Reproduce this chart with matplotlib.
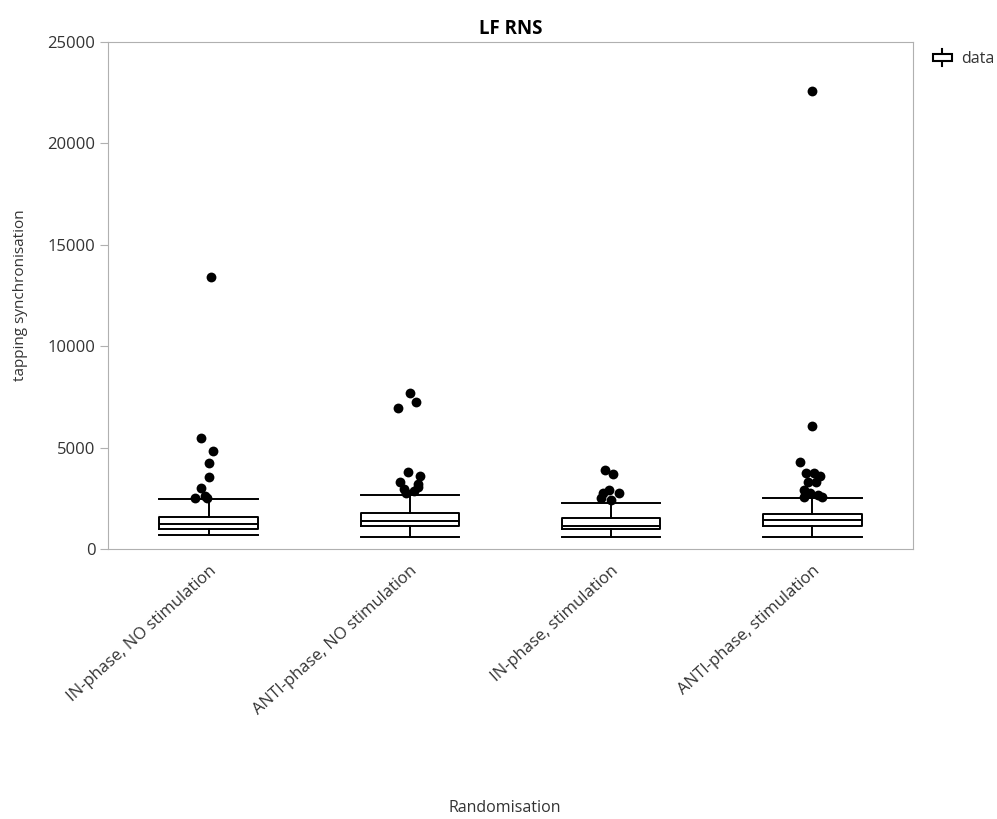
import matplotlib
matplotlib.use("Agg")
import matplotlib.pyplot as plt
from matplotlib.patches import Rectangle
from matplotlib.lines import Line2D
from matplotlib.legend_handler import HandlerBase

plt.rcParams['font.family'] = ['Open Sans', 'DejaVu Sans']

categories = ["IN-phase, NO stimulation", "ANTI-phase, NO stimulation",
              "IN-phase, stimulation", "ANTI-phase, stimulation"]
q1 = [1000, 1150, 990, 1150]
median = [1230, 1370, 1150, 1430]
q3 = [1560, 1790, 1545, 1710]
whisker_low = [705, 607, 607, 607]
whisker_high = [2450, 2660, 2280, 2500]

outliers = [
    [13410, 5460, 4850, 4260, 3540, 2990, 2610, 2500, 2500],
    [7680, 7260, 6940, 3810, 3600, 3320, 3200, 3070, 2950, 2850, 2750],
    [3900, 3680, 2910, 2780, 2750, 2500, 2420],
    [22590, 6070, 4280, 3730, 3730, 3620, 3320, 3320, 2910, 2750, 2660, 2580, 2550],
]
jitter = [
    [0.01, -0.04, 0.02, 0.0, 0.0, -0.04, -0.02, -0.07, -0.01],
    [0.0, 0.03, -0.06, -0.01, 0.05, -0.05, 0.04, 0.04, -0.03, 0.02, -0.02],
    [-0.03, 0.01, -0.01, 0.04, -0.04, -0.05, 0.0],
    [0.0, 0.0, -0.06, -0.03, 0.01, 0.04, -0.02, 0.02, -0.04, -0.01, 0.03, -0.04, 0.05],
]

fig = plt.figure(figsize=(9.97, 8.19), dpi=100)
ax = fig.add_axes([0.1083, 0.3297, 0.8074, 0.619])

stats = []
for i in range(len(categories)):
    stats.append(dict(med=median[i], q1=q1[i], q3=q3[i],
                      whislo=whisker_low[i], whishi=whisker_high[i], fliers=[]))

positions = list(range(len(categories)))
ax.bxp(stats, positions=positions, widths=0.49, showfliers=False,
       boxprops=dict(color='black', linewidth=1.4),
       medianprops=dict(color='black', linewidth=1.4),
       whiskerprops=dict(color='black', linewidth=1.4),
       capprops=dict(color='black', linewidth=1.4),
       capwidths=0.49)

for i, (vals, jit) in enumerate(zip(outliers, jitter)):
    xs = [positions[i] + j for j in jit]
    ax.scatter(xs, vals, s=50, color='black', zorder=3, linewidths=0)

ax.set_xlim(-0.5, len(categories) - 0.5)
ax.set_ylim(0, 25000)
ax.set_yticks([0, 5000, 10000, 15000, 20000, 25000])
ax.set_yticklabels(["0", "5000", "10000", "15000", "20000", "25000"])
ax.set_xticks(positions)
ax.set_xticklabels(categories, rotation=42, ha='right', rotation_mode='anchor')

for s in ax.spines.values():
    s.set_color('#b0b0b0')
ax.tick_params(axis='y', colors='#b0b0b0', labelcolor='#333333', labelsize=12, length=6, pad=3)
ax.tick_params(axis='x', length=0, labelcolor='#333333', labelsize=12, pad=10)

ax.set_title("LF RNS", fontsize=13.5, fontweight='bold', pad=6)
ax.set_ylabel("tapping synchronisation", fontsize=11, color='#333333', labelpad=14)
fig.text(0.506, 0.004, "Randomisation", ha='center', va='bottom', fontsize=11.5, color='#333333')


class BoxHandler(HandlerBase):
    def create_artists(self, legend, orig_handle, xdescent, ydescent, width, height, fontsize, trans):
        cx = width / 2 - xdescent
        cy = height / 2 - ydescent
        w = width
        h = height * 0.62
        rect = Rectangle((cx - w / 2, cy - h / 2), w, h, facecolor='white',
                         edgecolor='black', linewidth=1.5, transform=trans, zorder=2)
        l1 = Line2D([cx, cx], [cy - height * 0.75, cy + height * 0.75], color='black',
                    linewidth=1.5, transform=trans, zorder=1)
        return [l1, rect]


handle = Rectangle((0, 0), 1, 1)
leg = fig.legend([handle], ["data"], handler_map={Rectangle: BoxHandler()},
                 loc='upper left', bbox_to_anchor=(0.921, 0.955), frameon=False,
                 fontsize=11.5, handlelength=1.2, handletextpad=0.6)
for t in leg.get_texts():
    t.set_color('#333333')

fig.savefig("out.png", dpi=100)
